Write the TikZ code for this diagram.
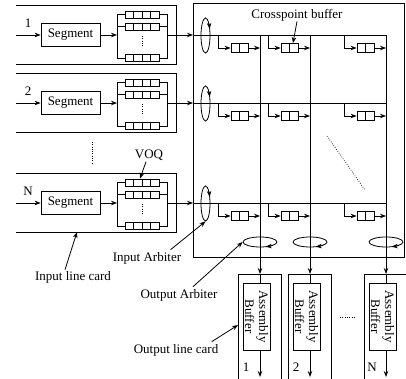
\documentclass[tikz,border=0pt]{standalone}
\usepackage{fontspec}
\setmainfont{Liberation Serif}
\usetikzlibrary{arrows.meta,shapes.geometric}
\begin{document}
\begin{tikzpicture}[x=1pt,y=-1pt, font=\fontsize{13}{14}\selectfont, line width=0.8pt,
 arr/.style={-{Stealth[length=6pt,width=4.5pt]}},
 segbox/.style={draw, minimum width=59pt, minimum height=23pt, inner sep=0pt},
 qbox/.style={draw, minimum width=34pt, minimum height=7pt, inner sep=0pt},
 xbuf/.style={draw, minimum width=17pt, minimum height=9pt, inner sep=0pt},
 asmbox/.style={draw, rotate=-90, minimum width=67pt, minimum height=27pt, inner sep=0pt, align=center},
 iarb/.style={draw, ellipse, minimum width=9pt, minimum height=35pt, inner sep=0pt},
 oarb/.style={draw, ellipse, minimum width=34pt, minimum height=10pt, inner sep=0pt},
 dots/.style={line width=0.7pt, dash pattern=on 0.7pt off 1.6pt},
 lbl/.style={inner sep=1pt}]
\useasboundingbox (0,0) rectangle (406,379);
% switch fabric box
\node[draw, anchor=north west, minimum width=210.5pt, minimum height=254pt, inner sep=0pt] (sw) at (193,3) {};
% input line cards
\foreach \r/\k/\lab in {35/1/1, 103/2/2, 203/3/N}{
  \draw (16,\r-30) -- (176,\r-30) -- (176,\r+29) -- (16,\r+29);
  \coordinate (in\k) at (16,\r);
  \node[segbox] (seg\k) at (70.5,\r-0.5) {Segment};
  \draw[arr] (in\k) -- (seg\k.west |- in\k);
  \node[lbl] at (28,\r-12) {\lab};
  \node[qbox] (qa\k) at (142,\r-20.5) {};
  \node[qbox] (qb\k) at (142,\r-8.5) {};
  \node[qbox] (qc\k) at (142,\r+23) {};
  \foreach \q in {qa,qb,qc}{
    \foreach \dx in {-8.5,0,8.5}{
      \draw ([xshift=\dx pt]\q\k.north) -- ([xshift=\dx pt]\q\k.south);
    }
  }
  \coordinate (bl\k) at (117,\r);
  \coordinate (br\k) at (167,\r);
  \draw (qa\k.west) -- (qa\k.west -| bl\k) -- (qc\k.west -| bl\k) -- (qc\k.west);
  \draw (qb\k.west) -- (qb\k.west -| bl\k);
  \draw (qa\k.east) -- (qa\k.east -| br\k) -- (qc\k.east -| br\k) -- (qc\k.east);
  \draw (qb\k.east) -- (qb\k.east -| br\k);
  \draw[dots] (142,\r+1) -- (142,\r+12);
  \draw[arr] (seg\k.east |- bl\k) -- (bl\k);
  \draw[arr] (br\k) -- (sw.west |- br\k);
  \coordinate (re\k) at (386,\r);
  \draw (sw.west |- br\k) -- (re\k);
  \node[iarb] (ia\k) at (205.5,\r+0.5) {};
  \draw[arr] ([shift={(50:4.5pt and 17.5pt)}]ia\k.center) arc[start angle=50,end angle=22,x radius=4.5pt,y radius=17.5pt];
  \foreach \c/\j in {260/1, 310/2, 386/3}{
    \node[xbuf] (xb\k\j) at (\c-20.5,\r+13) {};
    \draw (xb\k\j.north) -- (xb\k\j.south);
    \draw[arr] (\c-42,\r) |- (xb\k\j.west);
    \draw[arr] (xb\k\j.east) -- (\c,\r+13);
  }
}
% columns, output arbiters and output line cards
\foreach \c/\j/\lab in {260/1/1, 310/2/2, 386/3/N}{
  \coordinate (ct\j) at (\c,35);
  \coordinate (cin\j) at (\c,274);
  \draw[arr] (ct\j) -- (cin\j);
  \node[oarb] (oa\j) at (\c,242) {};
  \draw[arr] ([shift={(-40:17pt and 5pt)}]oa\j.center) arc[start angle=-40,end angle=-70,x radius=17pt,y radius=5pt];
  \draw (\c-22,381) -- (\c-22,274) -- (\c+21,274) -- (\c+21,381);
  \node[asmbox] (ab\j) at (\c-3.5,316.5) {Assembly\\Buffer};
  \draw (cin\j) -- (cin\j |- ab\j.west);
  \coordinate (co\j) at (\c,377);
  \draw[arr] (co\j |- ab\j.east) -- (co\j);
  \node[lbl] at (\c-14,367) {\lab};
}
% dotted ellipses
\draw[dots] (92,142) -- (92,165);
\draw[dots] (327,136) -- (365,190);
\draw[dots] (340,317) -- (356,317);
% labels
\node[lbl] (cpl) at (297,15) {Crosspoint buffer};
\draw[arr] ([yshift=1pt]cpl.south) -- ([xshift=3.5pt]xb12.north);
\node[lbl] (voql) at (149,155) {VOQ};
\draw[arr] ([xshift=-3pt]voql.south) -- ([xshift=-2pt]qa3.north);
\node[lbl] (ilc) at (73,277) {Input line card};
\coordinate (icb) at (77,232);
\draw[arr] ([xshift=-8pt]ilc.north) -- (icb);
\node[lbl] (ial) at (147,258) {Input Arbiter};
\draw[arr] ([xshift=-12pt,yshift=1pt]ial.north east) -- (ia3.south);
\node[lbl] (oal) at (179,295) {Output Arbiter};
\draw[arr] ([xshift=14pt,yshift=1pt]oal.north) -- (oa1.west);
\node[lbl] (olc) at (176,350) {Output line card};
\coordinate (ocl) at (238,325);
\draw[arr] ([xshift=-8pt,yshift=1pt]olc.north east) -- (ocl);
\end{tikzpicture}
\end{document}
